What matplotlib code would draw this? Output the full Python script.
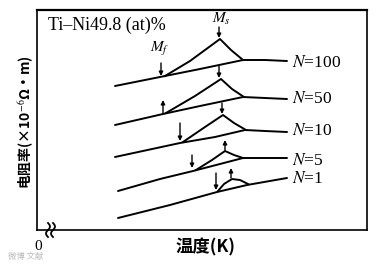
import matplotlib.pyplot as plt
import numpy as np

plt.rcParams['font.family'] = ['Liberation Serif', 'DejaVu Serif']
plt.rcParams['mathtext.fontset'] = 'stix'

# curve labels
labels = ["N=100", "N=50", "N=10", "N=5", "N=1"]

# baseline (heating) curves (x, y in picture units, y down)
base_x = [
    [115, 160, 200, 243, 265, 287],
    [115, 163, 200, 243, 265, 287],
    [115, 180, 215, 245, 265, 287],
    [118, 160, 193, 220, 243, 265, 287],
    [118, 170, 217, 247, 287],
]
base_y = [
    [86, 77, 69, 60, 60, 61],
    [125, 114, 106, 97, 98, 99],
    [157, 143, 137, 130, 131, 132],
    [191, 179, 171, 164, 158, 158, 158],
    [218, 205, 192, 185, 178],
]

# peak (R-phase) branches
peak_x = [
    [165, 190, 220, 231, 243],
    [166, 195, 221, 232, 244],
    [183, 205, 223, 234, 246],
    [196, 212, 225, 234, 243],
    [218, 224, 232, 240, 248],
]
peak_y = [
    [76, 61, 39, 50, 60],
    [113, 96, 79, 89, 97],
    [142, 127, 115, 123, 130],
    [170, 160, 151, 155, 158],
    [191, 184, 179, 180, 184],
]

# Mf and Ms arrow positions: x, tail y, head y
mf_x = [161, 163, 180, 192, 216]
mf_tail = [63, 113, 123, 155, 173]
mf_head = [76, 100, 141, 168, 190]
ms_x = [219, 219, 222, 225, 231]
ms_tail = [27, 66, 103, 150, 178]
ms_head = [38, 78, 114, 140, 168]

label_y = [63, 99, 131, 161, 179]

fig = plt.figure(figsize=(3.86, 2.65), dpi=100)
ax = fig.add_axes([37 / 386, 1 - 230 / 265, 330 / 386, 220 / 265])
ax.set_xlim(37, 367)
ax.set_ylim(230, 10)
ax.set_xticks([])
ax.set_yticks([])
for sp in ax.spines.values():
    sp.set_linewidth(1.2)
ax.spines['top'].set_linewidth(1.6)

for i in range(len(labels)):
    ax.plot(base_x[i], base_y[i], color='k', lw=1.4, solid_capstyle='round')
    if i == 4:
        # small rounded bump
        xs = np.linspace(peak_x[i][0], peak_x[i][-1], 30)
        ys = np.interp(xs, peak_x[i], peak_y[i])
        ax.plot(xs, ys, color='k', lw=1.4)
    else:
        ax.plot(peak_x[i], peak_y[i], color='k', lw=1.4)
    for (x, t, h) in [(mf_x[i], mf_tail[i], mf_head[i]),
                      (ms_x[i], ms_tail[i], ms_head[i])]:
        ax.annotate('', xy=(x, h), xytext=(x, t),
                    arrowprops=dict(arrowstyle='-|>', lw=1.0, color='k',
                                    mutation_scale=6, shrinkA=0, shrinkB=0))
    name, val = labels[i].split("=")
    ax.text(292, label_y[i], "$\\mathit{N}$=" + val, fontsize=12.5,
            va='center', ha='left')

ax.text(48, 25, "Ti\u2013Ni49.8 (at)%", fontsize=13, va='center', ha='left')
ax.text(221, 19, "$M_s$", fontsize=11, va='center', ha='center')
ax.text(160, 49, "$M_f$", fontsize=11, va='center', ha='center')

# axis break marks near origin
t = np.linspace(-1, 1, 20)
for dx in (48, 53):
    ax.plot(dx + 2.0 * np.sin(t * np.pi), 230 - 7 * t, color='k', lw=1.3,
            clip_on=False)

fig.text(38 / 386, 1 - 246 / 265, "0", fontsize=11, ha='center', va='center')
fig.text(206 / 386, 1 - 247 / 265, "温度(K)", fontsize=12.5, fontweight='bold',
         family=['Noto Sans CJK SC', 'DejaVu Sans'], ha='center', va='center')
fig.text(26 / 386, 1 - 122 / 265, "电阻率(×10$^{-6}$Ω\u00b7m)", fontsize=10,
         fontweight='bold', family=['Noto Sans CJK SC', 'DejaVu Sans'],
         rotation=90, ha='center', va='center')
fig.text(8 / 386, 1 - 256 / 265, "微博 文献", fontsize=6, color='#bbbbbb',
         family=['Noto Sans CJK SC', 'DejaVu Sans'], ha='left', va='center')

fig.savefig("out.png", dpi=100)
